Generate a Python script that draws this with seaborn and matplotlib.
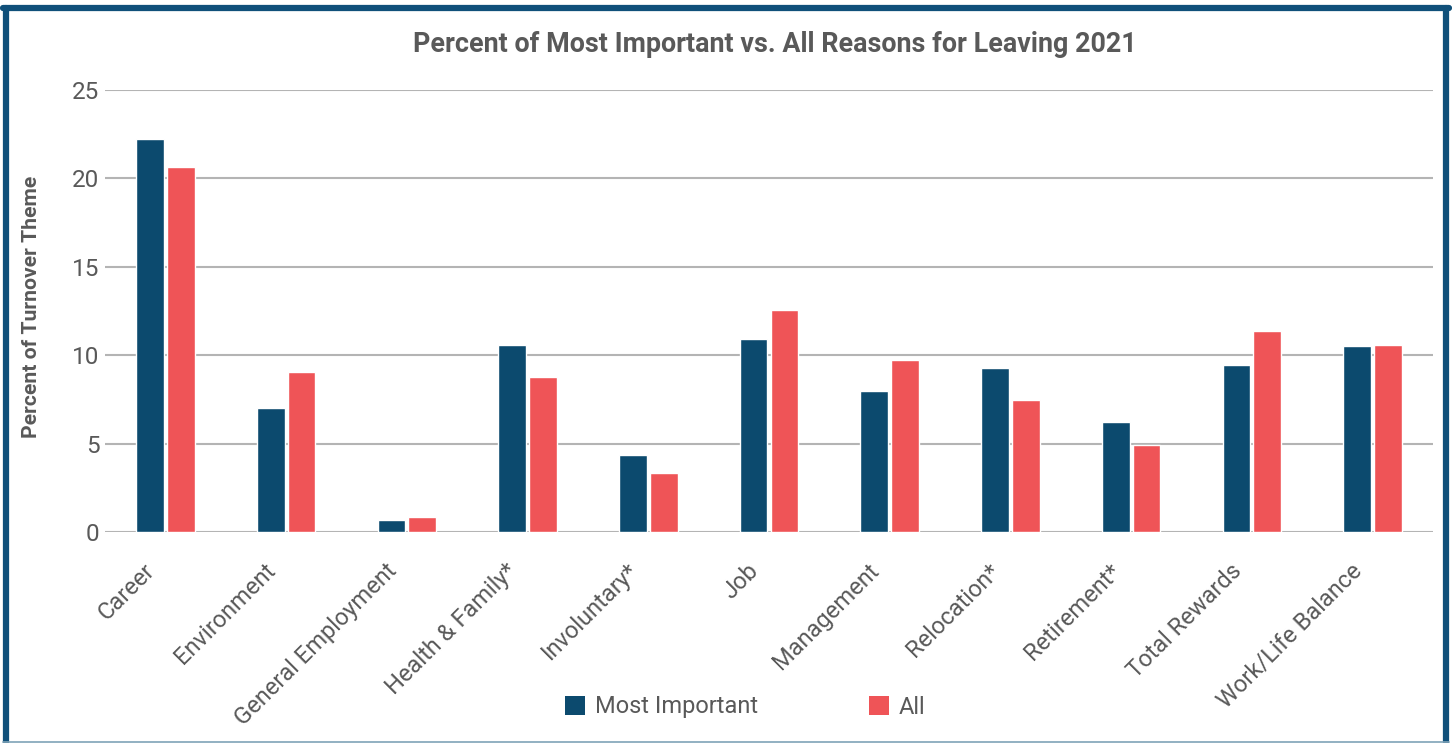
import numpy as np
import pandas as pd
import matplotlib
matplotlib.use("Agg")
import matplotlib.pyplot as plt
from matplotlib.lines import Line2D
from matplotlib.patches import Patch
from matplotlib.transforms import ScaledTranslation
import seaborn as sns

# valores
categorias = ["Career", "Environment", "General Employment", "Health & Family*",
              "Involuntary*", "Job", "Management", "Relocation*", "Retirement*",
              "Total Rewards", "Work/Life Balance"]
most_important = [22.25, 7.0, 0.7, 10.6, 4.35, 10.9, 8.0, 9.3, 6.2, 9.45, 10.5]
todos = [20.65, 9.05, 0.85, 8.75, 3.35, 12.55, 9.75, 7.45, 4.92, 11.35, 10.6]
series = ["Most Important", "All"]
colores = {"Most Important": "#0c4a6e", "All": "#ef5457"}

df = pd.DataFrame({
    "tema": categorias * 2,
    "serie": [series[0]] * len(categorias) + [series[1]] * len(categorias),
    "valor": most_important + todos,
})

sns.set_style("white")
plt.rcParams["font.family"] = ["Roboto", "DejaVu Sans"]
gris = "#595959"

fig = plt.figure(figsize=(14.52, 7.43), dpi=100)
ax = fig.add_axes([105 / 1452, 1 - 532 / 743, (1433 - 105) / 1452, (532 - 90) / 743])

sns.barplot(data=df, x="tema", y="valor", hue="serie", palette=colores,
            width=0.51, gap=0.1, saturation=1, legend=False, ax=ax)

ax.set_ylim(0, 25)
ax.set_xlim(-0.5, len(categorias) - 0.5)
ax.set_yticks([0, 5, 10, 15, 20, 25])
ax.yaxis.grid(True, color="#b4b4b4", linewidth=1.5)
ax.set_axisbelow(True)
for s in ax.spines.values():
    s.set_visible(False)
ax.tick_params(axis="both", length=0, colors=gris, labelsize=17)
ax.tick_params(axis="y", pad=4, labelsize=17.5)
ax.set_xlabel("")
ax.set_ylabel("")
ax.tick_params(axis="x", pad=8)
desplaza = ScaledTranslation(-22 / 100, -16 / 100, fig.dpi_scale_trans)
for lab in ax.get_xticklabels():
    lab.set_rotation(45)
    lab.set_ha("right")
    lab.set_va("top")
    lab.set_rotation_mode("anchor")
    lab.set_transform(lab.get_transform() + desplaza)

fig.text(775 / 1452, 1 - 45 / 743, "Percent of Most Important vs. All Reasons for Leaving 2021",
         ha="center", va="center", fontsize=19.4, fontweight="bold", color=gris)
fig.text(32 / 1452, 1 - 307 / 743, "Percent of Turnover Theme", rotation=90,
         ha="center", va="center", fontsize=15.2, fontweight="bold", color=gris)

handles = [Patch(facecolor=colores[s], edgecolor="none", label=s) for s in series]
fig.legend(handles=handles, loc="center", bbox_to_anchor=(745 / 1452, 1 - 707 / 743),
           ncol=2, frameon=False, fontsize=17, handlelength=0.85, handleheight=0.85,
           handletextpad=0.4, columnspacing=4.7, labelcolor=gris)

# marco exterior
azul = "#10507a"
fig.add_artist(Line2D([5.5 / 1452, 5.5 / 1452], [0, 1 - 8 / 743], color=azul, lw=4.5,
                      transform=fig.transFigure))
fig.add_artist(Line2D([3 / 1452, 1449 / 1452], [1 - 8 / 743, 1 - 8 / 743], color=azul, lw=4.5,
                      transform=fig.transFigure))
fig.add_artist(Line2D([1446 / 1452, 1446 / 1452], [0, 1 - 8 / 743], color=azul, lw=4.5,
                      transform=fig.transFigure))
fig.add_artist(Line2D([3 / 1452, 1449 / 1452], [1.5 / 743, 1.5 / 743], color="#7fa3b8", lw=1.2,
                      transform=fig.transFigure))

fig.savefig("out.png", dpi=100)
